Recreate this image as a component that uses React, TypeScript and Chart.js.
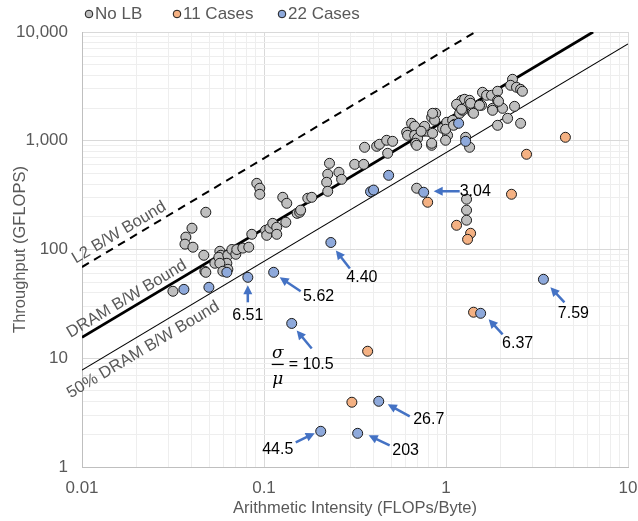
import React, { useEffect, useRef } from 'react';
import { Chart, registerables } from 'chart.js';

Chart.register(...registerables);

// ---------------- data ----------------
const noLbX = [
  0.0316, 0.0372, 0.0368, 0.0402, 0.0407, 0.0479, 0.0473, 0.0479, 0.0467, 0.0537,
  0.0572, 0.0579, 0.0565, 0.0633, 0.0625, 0.0572, 0.0633, 0.0594, 0.0666, 0.070,
  0.0709, 0.0765, 0.0825, 0.0857, 0.0913, 0.0948, 0.0948, 0.102, 0.1035, 0.1076,
  0.1117, 0.1175, 0.1175, 0.1318, 0.1268, 0.1334, 0.152, 0.157, 0.174, 0.183,
  0.159, 0.224, 0.221, 0.258, 0.267, 0.224, 0.229, 0.315, 0.353, 0.357,
  0.416, 0.431, 0.472, 0.509, 0.478, 0.608, 0.647, 0.673, 0.615, 0.673,
  0.698, 0.681, 0.69, 0.754, 0.793, 0.834, 0.844, 0.834, 0.877, 0.866,
  0.958, 1.01, 1.02, 0.995, 1.087, 1.115, 0.69, 1.297, 1.297, 1.297,
  1.348, 1.282, 1.158, 1.218, 1.265, 1.297, 1.188, 1.234, 1.348, 1.40,
  1.567, 1.587, 1.671, 1.779, 1.802, 1.92, 1.92, 2.045, 2.18, 1.92,
  2.32, 2.38, 2.263, 2.44, 2.57, 2.63, 2.57, 1.365, 1.143, 1.528,
  1.944, 1.802, 1.218, 1.417, 0.844, 0.763, 0.73, 0.834, 0.995, 1.10,
];
const noLbY = [
  41.3, 130, 112, 157, 105, 220, 63.1, 61.7, 88.5, 74.7,
  96.3, 88.5, 84.9, 88.5, 74.7, 74.7, 65.8, 63.1, 100, 90.4,
  100, 103, 105, 138, 406, 366, 322, 150, 135, 157,
  174, 160, 138, 178, 302, 266, 215, 220, 296, 302,
  230, 492, 415, 513, 442, 343, 620, 607, 607, 871,
  889, 928, 1010, 988, 767, 1196, 1447, 1358, 1122, 1122,
  1054, 948, 908, 1222, 1222, 908, 1171, 1643, 1788, 1542,
  1302, 1478, 1122, 1010, 1542, 1417, 366, 290, 230, 186,
  871, 1076, 2117, 2355, 2406, 2030, 1788, 1905, 2355, 1828,
  2117, 2790, 2618, 2618, 1987, 2851, 2355, 1987, 1608, 1387,
  3673, 2072, 3236, 3105, 2972, 2851, 1447, 2210, 2163, 2117,
  2306, 1905, 1945, 1788, 1788, 1358, 1222, 948, 1274, 1387,
];

const cases11X = [0.304, 0.371, 0.793, 1.143, 1.365, 1.314, 1.417, 2.29, 2.77, 4.53];
const cases11Y = [3.94, 11.6, 272, 167, 141, 124, 26.5, 322, 751, 1076];

const cases22X = [0.0363, 0.0498, 0.0625, 0.0815, 0.113, 0.142, 0.233, 0.205, 0.327, 0.427, 0.385, 0.40, 0.484, 0.754, 1.173, 1.282, 1.55, 3.43];
const cases22Y = [43.0, 44.9, 61.7, 55.5, 61.7, 20.9, 116, 2.13, 2.04, 4.02, 340, 352, 481, 336, 1447, 988, 25.9, 53.2];

// roofline bandwidths (GB/s)
const l2Bandwidth = 6900;
const dramBandwidth = 1555;
const halfDramBandwidth = 777.5;

const seriesNames = ['No LB', '11 Cases', '22 Cases'];
const roofNames = ['L2 B/W Bound', 'DRAM B/W Bound', '50% DRAM B/W Bound'];

const xTickLabels = ['0.01', '0.1', '1', '10'];
const yTickLabels = ['1', '10', '100', '1,000', '10,000'];

// ratio call-outs on the 22-case points
const ratioLabels = ['6.51', '5.62', '10.5', '4.40', '44.5', '203', '26.7', '3.04', '6.37', '7.59'];
const ratioPointIndex = [3, 4, 5, 6, 7, 8, 9, 13, 16, 17];

// ---------------- layout / style (pixels) ----------------
const calloutLayout = [
  { head: [0, 8], tail: [0, 25], text: [0, 38], align: 'center' },
  { head: [6, 5], tail: [27, 19], text: [45, 24], align: 'center' },
  { head: [5, 7], tail: [20, 25], text: [-3, 41], align: 'left', fraction: true },
  { head: [5, 8], tail: [19, 26], text: [31, 35], align: 'center' },
  { head: [-6, 2], tail: [-25, 11], text: [-43, 18], align: 'center' },
  { head: [11, 2], tail: [32, 12], text: [48, 17], align: 'center' },
  { head: [9, 3], tail: [31, 15], text: [50, 18], align: 'center' },
  { head: [10, -1], tail: [36, -1], text: [36, -1], align: 'left' },
  { head: [8, 6], tail: [22, 21], text: [37, 30], align: 'center' },
  { head: [7, 8], tail: [21, 23], text: [30, 34], align: 'center' },
];
const roofLabelLayout = [
  { anchorX: 0.0171, offset: -10.5 },
  { anchorX: 0.0188, offset: -10 },
  { anchorX: 0.0198, offset: 14 },
];
const legendCenters = [89, 177, 282];

const FONT = "'Liberation Sans', Arial, sans-serif";
const TEXT_GRAY = '#595959';
const ARROW_BLUE = '#4472C4';
const GRAY_FILL = '#BFBFBF';
const ORANGE_FILL = '#F4B183';
const BLUE_FILL = '#8EA9DB';
const POINT_EDGE = '#1a1a1a';

const isDecade = (v: number) => {
  const l = Math.log10(v);
  return Math.abs(l - Math.round(l)) < 1e-9;
};

const buildLogTicks = (scale: any) => {
  const lo = Math.round(Math.log10(scale.min));
  const hi = Math.round(Math.log10(scale.max));
  const ticks: any[] = [];
  for (let e = lo; e < hi; e++) {
    for (let m = 1; m <= 9; m++) {
      const v = parseFloat((m * Math.pow(10, e)).toPrecision(6));
      ticks.push({ value: v, major: m === 1 });
    }
  }
  ticks.push({ value: Math.pow(10, hi), major: true });
  scale.ticks = ticks;
};

const toPoints = (xs: number[], ys: number[]) => xs.map((x, i) => ({ x, y: ys[i] }));
const roofPoints = (bw: number) => {
  const x0 = 0.01;
  const x1 = Math.min(10, 10000 / bw);
  return [
    { x: x0, y: bw * x0 },
    { x: x1, y: bw * x1 },
  ];
};

function drawArrow(ctx: CanvasRenderingContext2D, x1: number, y1: number, x2: number, y2: number) {
  const a = Math.atan2(y2 - y1, x2 - x1);
  const len = 9;
  const w = 4.5;
  const c = Math.cos(a);
  const s = Math.sin(a);
  ctx.strokeStyle = ARROW_BLUE;
  ctx.fillStyle = ARROW_BLUE;
  ctx.lineWidth = 2.5;
  ctx.lineCap = 'butt';
  ctx.beginPath();
  ctx.moveTo(x1, y1);
  ctx.lineTo(x2 - len * 0.7 * c, y2 - len * 0.7 * s);
  ctx.stroke();
  ctx.beginPath();
  ctx.moveTo(x2, y2);
  ctx.lineTo(x2 - len * c + w * s, y2 - len * s - w * c);
  ctx.lineTo(x2 - len * c - w * s, y2 - len * s + w * c);
  ctx.closePath();
  ctx.fill();
}

const overlayPlugin = {
  id: 'overlay',
  afterDatasetsDraw(chart: any) {
    const { ctx, scales } = chart;
    const xs = scales.x;
    const ys = scales.y;
    ctx.save();

    // roofline labels
    const bws = [l2Bandwidth, dramBandwidth, halfDramBandwidth];
    roofNames.forEach((name, i) => {
      const bw = bws[i];
      const lay = roofLabelLayout[i];
      const ax = lay.anchorX;
      const px = xs.getPixelForValue(ax);
      const py = ys.getPixelForValue(bw * ax);
      const px2 = xs.getPixelForValue(ax * 10);
      const py2 = ys.getPixelForValue(bw * ax * 10);
      const ang = Math.atan2(py2 - py, px2 - px);
      ctx.save();
      ctx.translate(px, py);
      ctx.rotate(ang);
      ctx.font = `16.5px ${FONT}`;
      ctx.fillStyle = TEXT_GRAY;
      ctx.textAlign = 'center';
      ctx.textBaseline = 'middle';
      ctx.fillText(name, 0, lay.offset);
      ctx.restore();
    });

    // ratio call-outs
    ratioLabels.forEach((label, i) => {
      const idx = ratioPointIndex[i];
      const lay: any = calloutLayout[i];
      const px = xs.getPixelForValue(cases22X[idx]);
      const py = ys.getPixelForValue(cases22Y[idx]);
      drawArrow(ctx, px + lay.tail[0], py + lay.tail[1], px + lay.head[0], py + lay.head[1]);
      ctx.fillStyle = '#000';
      ctx.font = `16px ${FONT}`;
      ctx.textBaseline = 'middle';
      ctx.textAlign = lay.align;
      const tx = px + lay.text[0];
      const ty = py + lay.text[1];
      if (lay.fraction) {
        ctx.fillText('= ' + label, tx, ty);
        const fx = tx - 11;
        ctx.textAlign = 'center';
        ctx.font = `italic 17px 'DejaVu Serif', serif`;
        ctx.fillText('\u03C3', fx, ty - 11);
        ctx.fillText('\u03BC', fx, ty + 15);
        ctx.strokeStyle = '#000';
        ctx.lineWidth = 1.3;
        ctx.beginPath();
        ctx.moveTo(fx - 6, ty);
        ctx.lineTo(fx + 6, ty);
        ctx.stroke();
      } else {
        ctx.fillText(label, tx, ty);
      }
    });

    // legend
    const fills = [GRAY_FILL, ORANGE_FILL, BLUE_FILL];
    ctx.font = `17px ${FONT}`;
    ctx.textAlign = 'left';
    ctx.textBaseline = 'middle';
    const ly = 14;
    seriesNames.forEach((name, i) => {
      const lx = legendCenters[i];
      ctx.beginPath();
      ctx.arc(lx, ly, 3.8, 0, Math.PI * 2);
      ctx.fillStyle = fills[i];
      ctx.fill();
      ctx.lineWidth = 1;
      ctx.strokeStyle = POINT_EDGE;
      ctx.stroke();
      ctx.fillStyle = TEXT_GRAY;
      ctx.fillText(name, lx + 6, ly);
    });

    ctx.restore();
  },
};

const gridColor = (c: any) => (c.tick && isDecade(c.tick.value) ? '#D9D9D9' : '#EEEEEE');

export default function App() {
  const ref = useRef<HTMLCanvasElement | null>(null);

  useEffect(() => {
    if (!ref.current) return;
    const pointStyle = (fill: string, order: number) => ({
      backgroundColor: fill,
      borderColor: POINT_EDGE,
      borderWidth: 1,
      pointRadius: 5,
      showLine: false,
      order,
    });
    const chart = new Chart(ref.current, {
      type: 'scatter',
      data: {
        datasets: [
          { label: seriesNames[0], data: toPoints(noLbX, noLbY), ...pointStyle(GRAY_FILL, 3) },
          { label: seriesNames[1], data: toPoints(cases11X, cases11Y), ...pointStyle(ORANGE_FILL, 2) },
          { label: seriesNames[2], data: toPoints(cases22X, cases22Y), ...pointStyle(BLUE_FILL, 1) },
          {
            label: roofNames[0], data: roofPoints(l2Bandwidth), showLine: true, pointRadius: 0,
            borderColor: '#000', borderWidth: 2, borderDash: [8, 6], order: 5,
          },
          {
            label: roofNames[1], data: roofPoints(dramBandwidth), showLine: true, pointRadius: 0,
            borderColor: '#000', borderWidth: 2.75, order: 5,
          },
          {
            label: roofNames[2], data: roofPoints(halfDramBandwidth), showLine: true, pointRadius: 0,
            borderColor: '#000', borderWidth: 1.1, order: 5,
          },
        ],
      },
      options: {
        animation: false,
        responsive: false,
        devicePixelRatio: 1,
        events: [],
        layout: { padding: { left: 0, right: 10, top: 32, bottom: 0 } },
        plugins: { legend: { display: false }, tooltip: { enabled: false } },
        scales: {
          x: {
            type: 'logarithmic',
            min: 0.01,
            max: 10,
            afterBuildTicks: buildLogTicks,
            afterFit: (s: any) => { s.height = 54; s.paddingLeft = 0; s.paddingRight = 0; },
            grid: { color: gridColor, drawTicks: false, lineWidth: 1 },
            border: { color: '#BFBFBF' },
            ticks: {
              autoSkip: false,
              maxRotation: 0,
              padding: 11,
              color: TEXT_GRAY,
              font: { family: FONT, size: 17 },
              callback: (v: any) => (isDecade(Number(v)) ? xTickLabels[Math.round(Math.log10(Number(v))) + 2] : ''),
            },
            title: {
              display: true,
              text: 'Arithmetic Intensity (FLOPs/Byte)',
              color: TEXT_GRAY,
              font: { family: FONT, size: 16.5 },
              padding: { top: 0, bottom: 3 },
            },
          },
          y: {
            type: 'logarithmic',
            min: 1,
            max: 10000,
            afterBuildTicks: buildLogTicks,
            afterFit: (s: any) => { s.width = 82; s.paddingTop = 0; s.paddingBottom = 0; },
            grid: { color: gridColor, drawTicks: false, lineWidth: 1 },
            border: { color: '#BFBFBF' },
            ticks: {
              autoSkip: false,
              padding: 14,
              color: TEXT_GRAY,
              font: { family: FONT, size: 17 },
              callback: (v: any) => (isDecade(Number(v)) ? yTickLabels[Math.round(Math.log10(Number(v)))] : ''),
            },
            title: {
              display: true,
              text: 'Throughput (GFLOPS)',
              color: TEXT_GRAY,
              font: { family: FONT, size: 16.5 },
              padding: { top: 11, bottom: 0 },
            },
          },
        },
      },
      plugins: [overlayPlugin],
    } as any);
    return () => chart.destroy();
  }, []);

  return (
    <div style={{ position: 'absolute', left: 0, top: 0, width: 638, height: 521, background: '#fff' }}>
      <canvas ref={ref} width={638} height={521} style={{ width: 638, height: 521, display: 'block' }} />
    </div>
  );
}
